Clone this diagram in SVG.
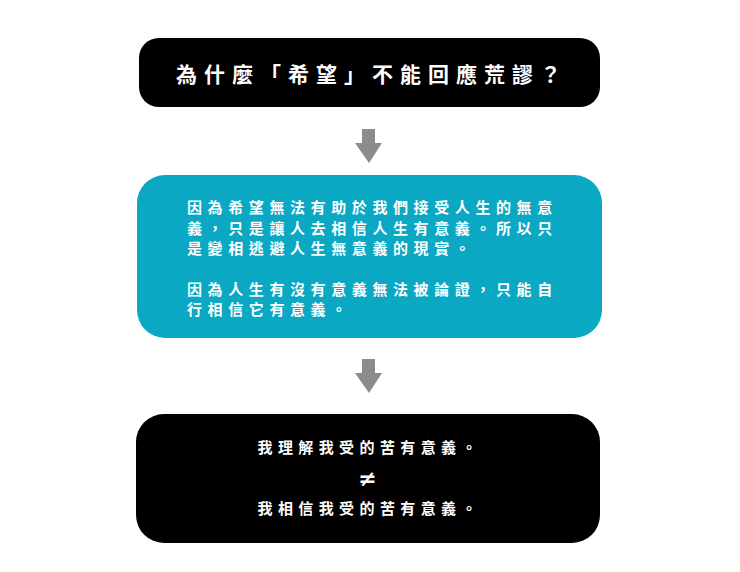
<svg xmlns="http://www.w3.org/2000/svg" width="740" height="572" viewBox="0 0 740 572">
<style>
.t{font-family:"Noto Sans CJK TC","Noto Sans CJK SC",sans-serif;font-weight:700;fill:#fff}
.title{font-size:21px;letter-spacing:7px}
.body{font-size:15px;letter-spacing:5.6px}
.bot{font-size:15px;letter-spacing:5.4px}
.arrow{fill:#8c8c8c}
</style>
<rect width="740" height="572" fill="#fff"/>
<g id="connectors">
<polygon class="arrow" points="362,129 375,129 375,143 382,143 369,163 355,143 362,143"/>
<polygon class="arrow" points="362,359 375,359 375,373 382,373 369,393 355,373 362,373"/>
</g>
<g id="node-question">
<rect x="139" y="38" width="461" height="69" rx="20" fill="#000"/>
<text class="t title" x="176" y="82">為什麼「希望」不能回應荒謬？</text>
</g>
<g id="node-explain">
<rect x="137" y="175" width="465" height="163" rx="28" fill="#0aa8c3"/>
<text class="t body" x="187" y="213">因為希望無法有助於我們接受人生的無意</text>
<text class="t body" x="187" y="233.5">義，只是讓人去相信人生有意義。所以只</text>
<text class="t body" x="187" y="254">是變相逃避人生無意義的現實。</text>
<text class="t body" x="187" y="294.5">因為人生有沒有意義無法被論證，只能自</text>
<text class="t body" x="187" y="315">行相信它有意義。</text>
</g>
<g id="node-conclusion">
<rect x="136" y="414" width="464" height="129" rx="28" fill="#000"/>
<text class="t bot" x="257.5" y="453">我理解我受的苦有意義。</text>
<text x="367.5" y="486" text-anchor="middle" font-family="DejaVu Sans, sans-serif" font-weight="700" font-size="22" fill="#fff">≠</text>
<text class="t bot" x="257.5" y="514">我相信我受的苦有意義。</text>
</g>
</svg>
